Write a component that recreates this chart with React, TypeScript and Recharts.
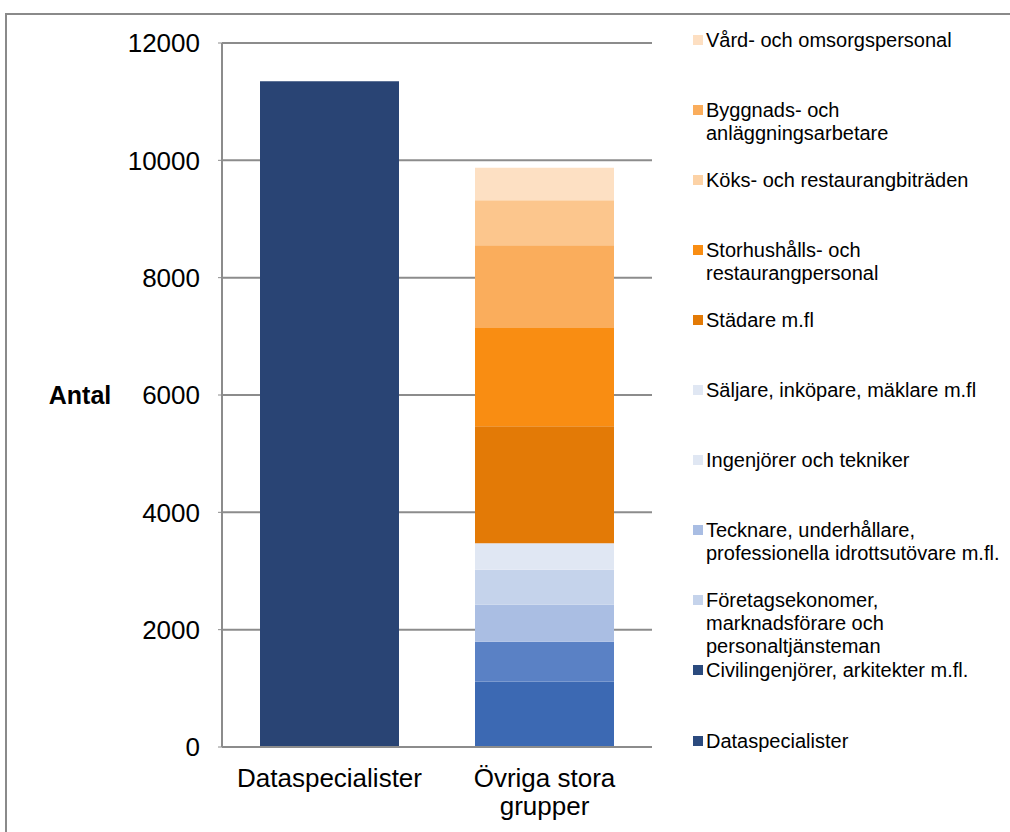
import { BarChart, Bar, XAxis, YAxis, CartesianGrid } from 'recharts';

// series in stacking order (bottom -> top)
const seriesNames = [
  'Dataspecialister',
  'Civilingenjörer, arkitekter m.fl.',
  'Företagsekonomer, marknadsförare och personaltjänsteman',
  'Tecknare, underhållare, professionella idrottsutövare m.fl.',
  'Ingenjörer och tekniker',
  'Säljare, inköpare, mäklare m.fl',
  'Städare m.fl',
  'Storhushålls- och restaurangpersonal',
  'Köks- och restaurangbiträden',
  'Byggnads- och anläggningsarbetare',
  'Vård- och omsorgspersonal',
];

// legend text as it is broken in the original
const legendLines = [
  ['Dataspecialister'],
  ['Civilingenjörer, arkitekter m.fl.'],
  ['Företagsekonomer,', 'marknadsförare och', 'personaltjänsteman'],
  ['Tecknare, underhållare,', 'professionella idrottsutövare m.fl.'],
  ['Ingenjörer och tekniker'],
  ['Säljare, inköpare, mäklare m.fl'],
  ['Städare m.fl'],
  ['Storhushålls- och', 'restaurangpersonal'],
  ['Köks- och restaurangbiträden'],
  ['Byggnads- och', 'anläggningsarbetare'],
  ['Vård- och omsorgspersonal'],
];

const categories = ['Dataspecialister', 'Övriga stora grupper'];
const categoryLines = [['Dataspecialister'], ['Övriga stora', 'grupper']];

// values per series: [Dataspecialister, Övriga stora grupper]
const dataspecialister = [11350, 0];
const civilingenjorer = [0, 1115];
const foretagsekonomer = [0, 677];
const tecknare = [0, 632];
const ingenjorer = [0, 598];
const saljare = [0, 449];
const stadare = [0, 1997];
const storhushall = [0, 1673];
const koks = [0, 1411];
const byggnads = [0, 769];
const vard = [0, 551];

const seriesValues = [
  dataspecialister, civilingenjorer, foretagsekonomer, tecknare, ingenjorer,
  saljare, stadare, storhushall, koks, byggnads, vard,
];

const yTicks = [0, 2000, 4000, 6000, 8000, 10000, 12000];

const barColors = [
  '#294474', '#3c69b3', '#5a81c5', '#aabee3', '#c5d3eb', '#e0e7f3',
  '#e37a06', '#f98d12', '#faad5c', '#fcc68d', '#fde0c3',
];

const legendColors = [
  '#2b4a7e', '#2b4a7e', '#c5d3eb', '#a9bde3', '#e0e7f3', '#e0e7f3',
  '#e37a06', '#f98d12', '#fcd2a6', '#faad5c', '#fddfc2',
];

const data = categories.map((name, ci) => {
  const row: Record<string, string | number> = { name };
  seriesNames.forEach((s, si) => {
    row['s' + si] = seriesValues[si][ci];
  });
  return row;
});

const FONT = '"Liberation Sans", Arial, sans-serif';
const GRID = '#8c8c8c';

function CategoryTick(props: any) {
  const { x, y, payload } = props;
  const idx = categories.indexOf(payload.value);
  const lines = idx >= 0 ? categoryLines[idx] : [String(payload.value)];
  return (
    <text x={x} y={y + 32} textAnchor="middle" fontSize={26} fontFamily={FONT} fill="#000">
      {lines.map((l, k) => (
        <tspan key={k} x={x} dy={k === 0 ? 0 : 28}>
          {l}
        </tspan>
      ))}
    </text>
  );
}

function AxisTitle(props: any) {
  const { viewBox } = props;
  return (
    <text
      x={80}
      y={viewBox.y + viewBox.height / 2}
      textAnchor="middle"
      dominantBaseline="central"
      fontSize={25}
      fontWeight="bold"
      fontFamily={FONT}
      fill="#000"
    >
      Antal
    </text>
  );
}

function Legend() {
  // drawn top -> bottom, i.e. reversed stacking order
  const order = seriesNames.map((_, i) => seriesNames.length - 1 - i);
  return (
    <div style={{ position: 'absolute', left: 693, top: 0, fontFamily: FONT, fontSize: 20, color: '#000' }}>
      {order.map((si, row) => (
        <div
          key={si}
          style={{ position: 'absolute', top: 40 + 70.1 * row - 11.5, left: 0, display: 'flex', width: 320 }}
        >
          <div style={{ width: 10, height: 10, background: legendColors[si], marginTop: 6, marginRight: 3, flex: 'none' }} />
          <div style={{ lineHeight: '23px', whiteSpace: 'nowrap' }}>
            {legendLines[si].map((l, k) => (
              <div key={k}>{l}</div>
            ))}
          </div>
        </div>
      ))}
    </div>
  );
}

export default function App() {
  return (
    <div style={{ position: 'fixed', left: 0, top: 0, width: 1010, height: 832, overflow: 'hidden', background: '#fff' }}>
      <div
        style={{
          position: 'absolute', left: 5, top: 13, width: 1100, height: 900,
          border: '2px solid #8a8a8a', boxSizing: 'border-box',
        }}
      />
      <div style={{ position: 'absolute', left: 0, top: 0 }}>
        <BarChart
          width={680}
          height={832}
          data={data}
          margin={{ top: 43, right: 28, left: 0, bottom: 0 }}
          barSize={139}
        >
          <CartesianGrid vertical={false} stroke={GRID} strokeWidth={2} />
          <XAxis
            dataKey="name"
            height={85}
            tickLine={false}
            axisLine={{ stroke: GRID, strokeWidth: 2 }}
            tick={<CategoryTick />}
            interval={0}
          />
          <YAxis
            width={222}
            domain={[0, 12000]}
            ticks={yTicks}
            interval={0}
            tickSize={4}
            tickMargin={18}
            tickLine={{ stroke: GRID, strokeWidth: 1 }}
            axisLine={{ stroke: GRID, strokeWidth: 2 }}
            tick={{ fontSize: 26, fontFamily: FONT, fill: '#000' }}
            label={<AxisTitle />}
          />
          {seriesNames.map((s, si) => (
            <Bar key={s} dataKey={'s' + si} name={s} stackId="a" fill={barColors[si]} isAnimationActive={false} />
          ))}
        </BarChart>
      </div>
      <Legend />
    </div>
  );
}
